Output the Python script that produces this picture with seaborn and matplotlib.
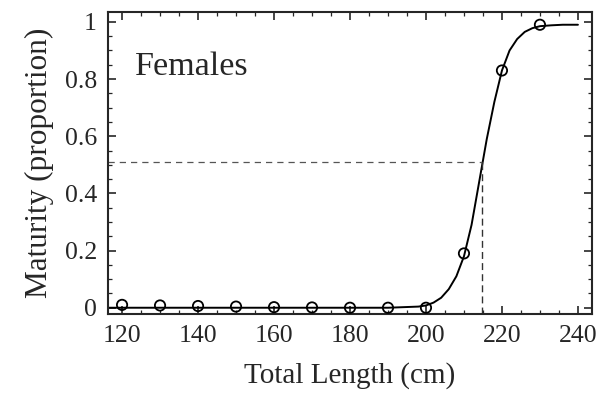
import matplotlib
matplotlib.use('Agg')
import matplotlib.pyplot as plt
from matplotlib.ticker import MultipleLocator
import pandas as pd
import seaborn as sns

# observed maturity proportions
lengths = [120, 130, 140, 150, 160, 170, 180, 190, 200, 210, 220, 230]
maturity = [0.010, 0.008, 0.006, 0.004, 0.002, 0.001, 0.0, 0.0, 0.0, 0.19, 0.83, 0.99]

# fitted curve
curveX = [116.3, 190, 198, 200, 202, 204, 206, 208, 210, 212, 214, 216, 218, 220, 222, 224, 226, 228, 230, 233, 236, 240]
curveY = [0.0, 0.0, 0.004, 0.008, 0.018, 0.035, 0.065, 0.11, 0.18, 0.29, 0.44, 0.59, 0.72, 0.83, 0.90, 0.94, 0.965, 0.978, 0.985, 0.988, 0.99, 0.99]

# 50% maturity reference
l50 = 214.8
p50 = 0.51

yTicks = [0, 0.2, 0.4, 0.6, 0.8, 1]
yTickLabels = ["0", "0.2", "0.4", "0.6", "0.8", "1"]
xTicks = [120, 140, 160, 180, 200, 220, 240]

sns.set_style("ticks")
plt.rcParams['font.family'] = ['Liberation Serif', 'DejaVu Serif']

obs = pd.DataFrame({"length": lengths, "maturity": maturity})
fit = pd.DataFrame({"length": curveX, "maturity": curveY})

fig = plt.figure(figsize=(5.99, 3.96), dpi=100)
ax = fig.add_axes([0.1803, 0.207, 0.808, 0.763])

sns.lineplot(data=fit, x="length", y="maturity", color="black", linewidth=1.4, ax=ax)
sns.scatterplot(data=obs, x="length", y="maturity", marker="o", s=55,
                facecolors="none", edgecolor="black", linewidth=1.3, ax=ax, zorder=3)

ymin = -0.022
ax.plot([116.3, l50], [p50, p50], color="#555555", linestyle=(0, (5, 4)), linewidth=0.9)
ax.plot([l50, l50], [ymin, p50], color="#333333", linestyle=(0, (5, 3)), linewidth=1.0)

ax.set_xlim(116.3, 243.7)
ax.set_ylim(ymin, 1.035)
ax.set_xticks(xTicks)
ax.set_yticks(yTicks)
ax.set_yticklabels(yTickLabels)
ax.xaxis.set_minor_locator(MultipleLocator(5))
ax.yaxis.set_minor_locator(MultipleLocator(0.05))
ax.tick_params(which="both", direction="in", top=True, right=True, labelsize=18.5)
ax.tick_params(axis="x", pad=8)
ax.tick_params(axis="y", pad=8)
ax.tick_params(which="major", length=6, width=1.2)
ax.tick_params(which="minor", length=3, width=0.9)
for s in ax.spines.values():
    s.set_visible(True)
    s.set_linewidth(1.5)

ax.set_xlabel("Total Length (cm)", fontsize=21, labelpad=11)
ax.set_ylabel("Maturity (proportion)", fontsize=22.5, labelpad=8)
ax.text(0.056, 0.79, "Females", transform=ax.transAxes, fontsize=24.5)

plt.savefig("out.png", dpi=100)
